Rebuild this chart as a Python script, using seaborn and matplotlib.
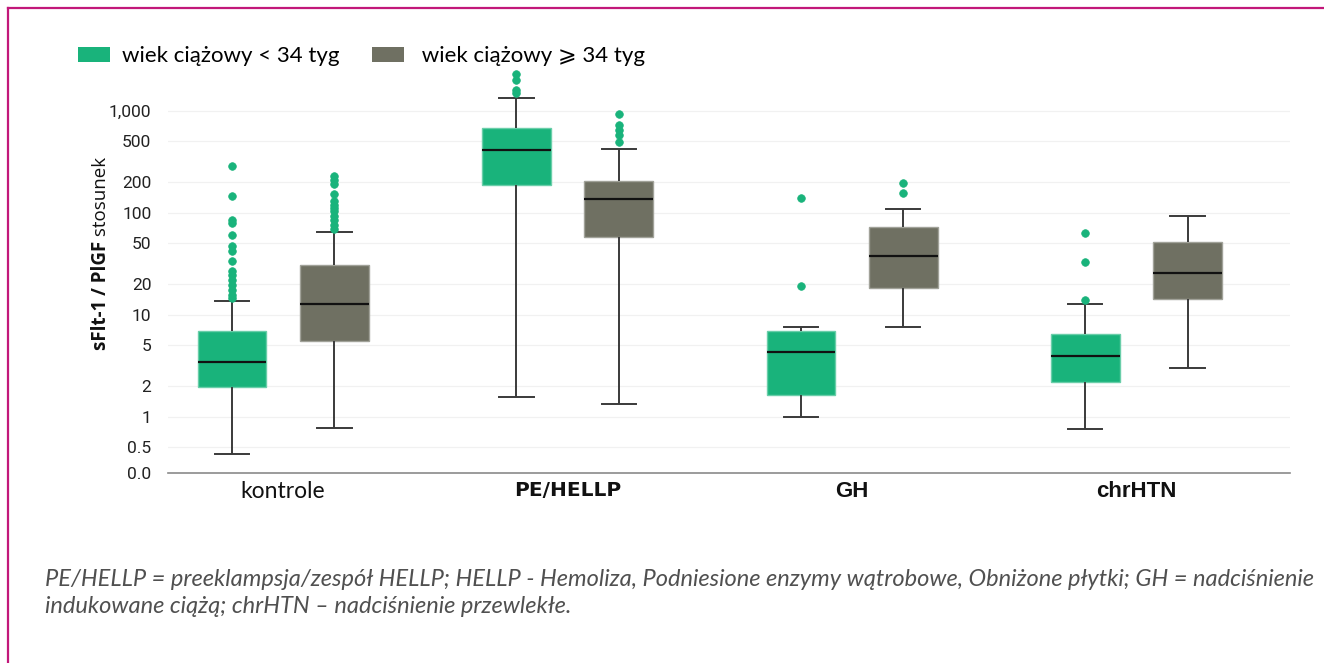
import numpy as np
import pandas as pd
import matplotlib
matplotlib.use("Agg")
import matplotlib.pyplot as plt
import matplotlib.colors as mcolors
from matplotlib.patches import Patch
from matplotlib.lines import Line2D
from matplotlib.ticker import NullLocator
import seaborn as sns

# ---------------- data ----------------
categories = ["kontrole", "PE/HELLP", "GH", "chrHTN"]
age_groups = ["wiek ciążowy < 34 tyg", " wiek ciążowy ⩾ 34 tyg"]

# < 34 weeks
lt34_whisker_low = [0.43, 1.55, 1.0, 0.75]
lt34_q1 = [1.95, 185, 1.64, 2.2]
lt34_median = [3.46, 408, 4.31, 3.94]
lt34_q3 = [6.86, 676, 6.86, 6.47]
lt34_whisker_high = [13.5, 1321, 7.5, 12.6]
lt34_fliers = [
    [14.6, 15.7, 17.6, 19.7, 22, 24.7, 26.6, 33.3, 41.8, 46.7, 61, 80, 85, 144.5, 284],
    [1492, 1607, 2014, 2290],
    [18.9, 140],
    [14.0, 32.6, 63.2],
]

# >= 34 weeks
ge34_whisker_low = [0.775, 1.33, 7.5, 2.98]
ge34_q1 = [5.56, 58, 18.3, 14.3]
ge34_median = [12.6, 137, 37.9, 25.4]
ge34_q3 = [30.9, 205, 72.4, 51.6]
ge34_whisker_high = [64.7, 424, 107.8, 92]
ge34_fliers = [
    [69.7, 76.3, 85, 92, 103, 111, 119.8, 129, 153.6, 191, 210.7, 230.6],
    [493, 582, 651, 729, 935],
    [156, 195.5],
    [],
]

ytick_values = [0.28, 0.5, 1, 2, 5, 10, 20, 50, 100, 200, 500, 1000]
ytick_labels = ["0.0", "0.5", "1", "2", "5", "10", "20", "50", "100", "200", "500", "1,000"]

caption = ("PE/HELLP = preeklampsja/zespół HELLP; HELLP - Hemoliza, Podniesione enzymy wątrobowe, "
           "Obniżone płytki; GH = nadciśnienie\nindukowane ciążą; chrHTN – nadciśnienie przewlekłe.")

green = "#19b37b"
gray = "#6f7062"
palette = [green, gray]


# ---------------- build a sample table with exactly these box statistics ----------------
def sample_from_summary(lo, q1, med, q3, hi, fliers):
    k = len(fliers) + 2
    return [lo] + [q1] * k + [med] * k + [q3] * k + [hi] + list(fliers)


rows = []
summaries = [
    (age_groups[0], lt34_whisker_low, lt34_q1, lt34_median, lt34_q3, lt34_whisker_high, lt34_fliers),
    (age_groups[1], ge34_whisker_low, ge34_q1, ge34_median, ge34_q3, ge34_whisker_high, ge34_fliers),
]
for age, lo, q1, med, q3, hi, fl in summaries:
    for i, cat in enumerate(categories):
        for v in sample_from_summary(lo[i], q1[i], med[i], q3[i], hi[i], fl[i]):
            rows.append({"grupa": cat, "wiek": age, "wartosc": v})
df = pd.DataFrame(rows)

# ---------------- figure ----------------
W, H = 1324, 663
fig = plt.figure(figsize=(W / 100, H / 100), dpi=100)
ax = fig.add_axes([168 / W, 1 - 473 / H, (1290 - 168) / W, (473 - 62) / H])

sns.boxplot(
    data=df, x="grupa", y="wartosc", hue="wiek",
    order=categories, hue_order=age_groups, palette=palette,
    width=0.72, gap=0.33, saturation=1, whis=1.5,
    linecolor="#3a3a3a", linewidth=1.4,
    medianprops=dict(color="#111111", linewidth=1.6),
    flierprops=dict(marker="o", markerfacecolor=green, markeredgecolor=green,
                    markersize=5.5, markeredgewidth=0.5),
    legend=False, ax=ax,
)

for p in ax.patches:
    fc = mcolors.to_rgb(p.get_facecolor())
    light = tuple(c + (1 - c) * 0.35 for c in fc)
    p.set_edgecolor(light)
    p.set_linewidth(1.0)

ax.set_yscale("log")
ax.set_ylim(0.28, 3000)
ax.set_xlim(-0.405, 3.54)
ax.yaxis.set_minor_locator(NullLocator())
ax.set_yticks(ytick_values)
ax.set_yticklabels(ytick_labels)
ax.set_xlabel("")
ax.set_ylabel("")

ax.grid(axis="y", color="#f1f1f1", linewidth=0.9)
ax.grid(axis="x", visible=False)
ax.set_axisbelow(True)
for s in ["left", "top", "right"]:
    ax.spines[s].set_visible(False)
ax.spines["bottom"].set_color("#8a8a8a")
ax.spines["bottom"].set_linewidth(1.2)
ax.tick_params(axis="both", length=0)
ax.tick_params(axis="y", pad=12)
ax.tick_params(axis="x", pad=6)
for lbl in ax.get_yticklabels():
    lbl.set_fontfamily("Roboto")
    lbl.set_fontsize(12.5)
    lbl.set_color("#222222")
ax.set_xticks(range(len(categories)))
ax.set_xticklabels(categories)
xfonts = [("Lato", "normal", 16.5), ("DejaVu Sans", "bold", 14.5),
          ("Liberation Sans", "bold", 16), ("Liberation Sans", "bold", 16)]
for lbl, (fam, wt, sz) in zip(ax.get_xticklabels(), xfonts):
    lbl.set_color("#111111")
    lbl.set_fontfamily(fam)
    lbl.set_fontweight(wt)
    lbl.set_fontsize(sz)

# legend
handles = [Patch(facecolor=c, edgecolor="none") for c in palette]
fig.legend(handles, age_groups, loc="center left", bbox_to_anchor=(78 / W, 1 - 56 / H),
           ncol=2, frameon=False, borderpad=0, borderaxespad=0,
           handlelength=1.44, handleheight=0.68, handletextpad=0.54, columnspacing=1.44,
           prop={"family": ["Lato", "DejaVu Sans"], "size": 16})

# y label: bold part + regular part
fig.canvas.draw()
r = fig.canvas.get_renderer()
t1 = fig.text(0, 0, "sFlt-1 / PlGF", rotation=90, rotation_mode="anchor", ha="left",
              va="baseline", fontsize=13.5, fontweight="bold", family="Open Sans", color="#111111")
t2 = fig.text(0, 0, " stosunek", rotation=90, rotation_mode="anchor", ha="left",
              va="baseline", fontsize=13.5, family="Open Sans", color="#111111")
h1 = t1.get_window_extent(r).height
h2 = t2.get_window_extent(r).height
center = H - 253.5
y0 = center - (h1 + h2) / 2
xb = 106
t1.set_position((xb / W, y0 / H))
t2.set_position((xb / W, (y0 + h1) / H))

# caption
fig.text(45 / W, 1 - 569 / H, caption, ha="left", va="top", family="Lato", style="italic",
         fontweight="normal", fontsize=17, color="#505050", linespacing=1.38)

# frame lines (top and left)
fig.add_artist(Line2D([8 / W, 1], [1 - 8 / H, 1 - 8 / H], transform=fig.transFigure,
                      color="#c2187a", linewidth=1.6))
fig.add_artist(Line2D([8 / W, 8 / W], [0, 1 - 8 / H], transform=fig.transFigure,
                      color="#c2187a", linewidth=1.6))

fig.savefig("out.png", dpi=100, facecolor="white")
